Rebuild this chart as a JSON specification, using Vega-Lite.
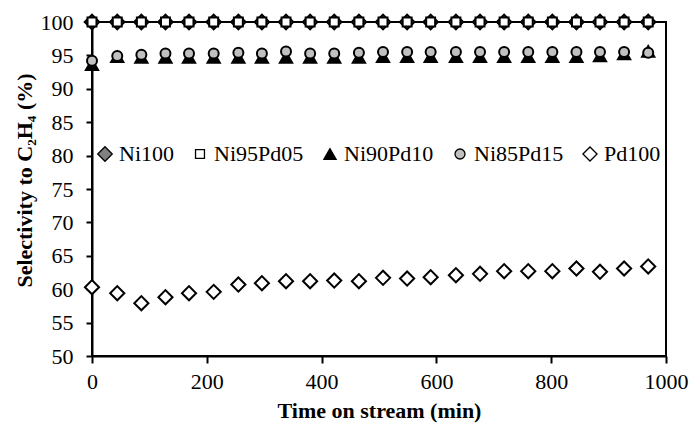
{
  "$schema": "https://vega.github.io/schema/vega-lite/v6.json",
  "width": 574,
  "height": 334,
  "autosize": {"type": "none"},
  "padding": {"left": 92, "top": 22, "right": 26, "bottom": 72},
  "background": "white",
  "config": {
    "font": "Liberation Serif",
    "view": {"stroke": "black", "strokeWidth": 2},
    "axis": {
      "grid": false,
      "domainColor": "black",
      "domainWidth": 2,
      "tickColor": "black",
      "tickWidth": 2,
      "labelColor": "black",
      "labelFont": "Liberation Serif",
      "labelFontSize": 22,
      "titleColor": "black",
      "titleFont": "Liberation Serif",
      "titleFontSize": 22,
      "titleFontWeight": "bold"
    },
    "legend": {
      "labelFont": "Liberation Serif", "labelFontSize": 22, "labelColor": "black"
    }
  },
  "datasets": {
    "sel": [
      {"series": "Ni100", "time": 0, "value": 100}, {"series": "Ni100", "time": 44, "value": 100}, {"series": "Ni100", "time": 86, "value": 100}, {"series": "Ni100", "time": 128, "value": 100}, {"series": "Ni100", "time": 169, "value": 100}, {"series": "Ni100", "time": 212, "value": 100}, {"series": "Ni100", "time": 255, "value": 100}, {"series": "Ni100", "time": 296, "value": 100}, {"series": "Ni100", "time": 338, "value": 100}, {"series": "Ni100", "time": 380, "value": 100}, {"series": "Ni100", "time": 422, "value": 100}, {"series": "Ni100", "time": 465, "value": 100}, {"series": "Ni100", "time": 507, "value": 100}, {"series": "Ni100", "time": 549, "value": 100}, {"series": "Ni100", "time": 590, "value": 100}, {"series": "Ni100", "time": 634, "value": 100}, {"series": "Ni100", "time": 676, "value": 100}, {"series": "Ni100", "time": 718, "value": 100}, {"series": "Ni100", "time": 760, "value": 100}, {"series": "Ni100", "time": 802, "value": 100}, {"series": "Ni100", "time": 844, "value": 100}, {"series": "Ni100", "time": 885, "value": 100}, {"series": "Ni100", "time": 927, "value": 100}, {"series": "Ni100", "time": 969, "value": 100},
      {"series": "Ni95Pd05", "time": 0, "value": 100}, {"series": "Ni95Pd05", "time": 44, "value": 100}, {"series": "Ni95Pd05", "time": 86, "value": 100}, {"series": "Ni95Pd05", "time": 128, "value": 100}, {"series": "Ni95Pd05", "time": 169, "value": 100}, {"series": "Ni95Pd05", "time": 212, "value": 100}, {"series": "Ni95Pd05", "time": 255, "value": 100}, {"series": "Ni95Pd05", "time": 296, "value": 100}, {"series": "Ni95Pd05", "time": 338, "value": 100}, {"series": "Ni95Pd05", "time": 380, "value": 100}, {"series": "Ni95Pd05", "time": 422, "value": 100}, {"series": "Ni95Pd05", "time": 465, "value": 100}, {"series": "Ni95Pd05", "time": 507, "value": 100}, {"series": "Ni95Pd05", "time": 549, "value": 100}, {"series": "Ni95Pd05", "time": 590, "value": 100}, {"series": "Ni95Pd05", "time": 634, "value": 100}, {"series": "Ni95Pd05", "time": 676, "value": 100}, {"series": "Ni95Pd05", "time": 718, "value": 100}, {"series": "Ni95Pd05", "time": 760, "value": 100}, {"series": "Ni95Pd05", "time": 802, "value": 100}, {"series": "Ni95Pd05", "time": 844, "value": 100}, {"series": "Ni95Pd05", "time": 885, "value": 100}, {"series": "Ni95Pd05", "time": 927, "value": 100}, {"series": "Ni95Pd05", "time": 969, "value": 100},
      {"series": "Ni90Pd10", "time": 0, "value": 93.6}, {"series": "Ni90Pd10", "time": 44, "value": 94.8}, {"series": "Ni90Pd10", "time": 86, "value": 94.7}, {"series": "Ni90Pd10", "time": 128, "value": 94.7}, {"series": "Ni90Pd10", "time": 169, "value": 94.7}, {"series": "Ni90Pd10", "time": 212, "value": 94.7}, {"series": "Ni90Pd10", "time": 255, "value": 94.7}, {"series": "Ni90Pd10", "time": 296, "value": 94.7}, {"series": "Ni90Pd10", "time": 338, "value": 94.7}, {"series": "Ni90Pd10", "time": 380, "value": 94.7}, {"series": "Ni90Pd10", "time": 422, "value": 94.7}, {"series": "Ni90Pd10", "time": 465, "value": 94.7}, {"series": "Ni90Pd10", "time": 507, "value": 94.8}, {"series": "Ni90Pd10", "time": 549, "value": 94.8}, {"series": "Ni90Pd10", "time": 590, "value": 94.8}, {"series": "Ni90Pd10", "time": 634, "value": 94.8}, {"series": "Ni90Pd10", "time": 676, "value": 94.8}, {"series": "Ni90Pd10", "time": 718, "value": 94.8}, {"series": "Ni90Pd10", "time": 760, "value": 94.8}, {"series": "Ni90Pd10", "time": 802, "value": 94.8}, {"series": "Ni90Pd10", "time": 844, "value": 94.8}, {"series": "Ni90Pd10", "time": 885, "value": 94.9}, {"series": "Ni90Pd10", "time": 927, "value": 95.2}, {"series": "Ni90Pd10", "time": 969, "value": 95.6},
      {"series": "Ni85Pd15", "time": 0, "value": 94.2}, {"series": "Ni85Pd15", "time": 44, "value": 94.9}, {"series": "Ni85Pd15", "time": 86, "value": 95.1}, {"series": "Ni85Pd15", "time": 128, "value": 95.3}, {"series": "Ni85Pd15", "time": 169, "value": 95.3}, {"series": "Ni85Pd15", "time": 212, "value": 95.3}, {"series": "Ni85Pd15", "time": 255, "value": 95.4}, {"series": "Ni85Pd15", "time": 296, "value": 95.3}, {"series": "Ni85Pd15", "time": 338, "value": 95.6}, {"series": "Ni85Pd15", "time": 380, "value": 95.3}, {"series": "Ni85Pd15", "time": 422, "value": 95.3}, {"series": "Ni85Pd15", "time": 465, "value": 95.4}, {"series": "Ni85Pd15", "time": 507, "value": 95.5}, {"series": "Ni85Pd15", "time": 549, "value": 95.5}, {"series": "Ni85Pd15", "time": 590, "value": 95.5}, {"series": "Ni85Pd15", "time": 634, "value": 95.5}, {"series": "Ni85Pd15", "time": 676, "value": 95.5}, {"series": "Ni85Pd15", "time": 718, "value": 95.5}, {"series": "Ni85Pd15", "time": 760, "value": 95.5}, {"series": "Ni85Pd15", "time": 802, "value": 95.5}, {"series": "Ni85Pd15", "time": 844, "value": 95.5}, {"series": "Ni85Pd15", "time": 885, "value": 95.5}, {"series": "Ni85Pd15", "time": 927, "value": 95.5}, {"series": "Ni85Pd15", "time": 969, "value": 95.4},
      {"series": "Pd100", "time": 0, "value": 60.3}, {"series": "Pd100", "time": 44, "value": 59.4}, {"series": "Pd100", "time": 86, "value": 57.9}, {"series": "Pd100", "time": 128, "value": 58.8}, {"series": "Pd100", "time": 169, "value": 59.4}, {"series": "Pd100", "time": 212, "value": 59.6}, {"series": "Pd100", "time": 255, "value": 60.7}, {"series": "Pd100", "time": 296, "value": 60.9}, {"series": "Pd100", "time": 338, "value": 61.2}, {"series": "Pd100", "time": 380, "value": 61.2}, {"series": "Pd100", "time": 422, "value": 61.3}, {"series": "Pd100", "time": 465, "value": 61.2}, {"series": "Pd100", "time": 507, "value": 61.7}, {"series": "Pd100", "time": 549, "value": 61.6}, {"series": "Pd100", "time": 590, "value": 61.8}, {"series": "Pd100", "time": 634, "value": 62.1}, {"series": "Pd100", "time": 676, "value": 62.3}, {"series": "Pd100", "time": 718, "value": 62.7}, {"series": "Pd100", "time": 760, "value": 62.7}, {"series": "Pd100", "time": 802, "value": 62.7}, {"series": "Pd100", "time": 844, "value": 63.1}, {"series": "Pd100", "time": 885, "value": 62.6}, {"series": "Pd100", "time": 927, "value": 63.1}, {"series": "Pd100", "time": 969, "value": 63.4}
    ]
  },
  "data": {"name": "sel"},
  "mark": {"type": "point", "filled": true, "strokeWidth": 2, "opacity": 1, "clip": false},
  "encoding": {
    "x": {
      "field": "time", "type": "quantitative",
      "scale": {"domain": [0, 1000], "nice": false, "zero": false},
      "axis": {"values": [0, 200, 400, 600, 800, 1000], "format": "d", "title": "Time on stream (min)", "tickSize": 7, "labelPadding": 8, "titleBaseline": "alphabetic", "titleY": 61, "labelFlush": false}
    },
    "y": {
      "field": "value", "type": "quantitative",
      "scale": {"domain": [50, 100], "nice": false, "zero": false},
      "axis": {"values": [50, 55, 60, 65, 70, 75, 80, 85, 90, 95, 100], "title": "Selectivity to C₂H₄ (%)", "tickSize": 6, "labelPadding": 13, "titleBaseline": "alphabetic", "titleX": -61, "titleY": 158, "titleAngle": -90, "labelFlush": false}
    },
    "shape": {
      "field": "series", "type": "nominal",
      "scale": {"domain": ["Ni100", "Ni95Pd05", "Ni90Pd10", "Ni85Pd15", "Pd100"], "range": ["diamond", "square", "triangle-up", "circle", "diamond"]},
      "legend": {"title": null, "orient": "none", "legendX": 2, "legendY": 121, "direction": "horizontal", "labelFont": "Liberation Serif", "labelFontSize": 22, "labelColor": "black", "symbolStrokeWidth": 1.3, "columnPadding": 15, "labelOffset": 3, "padding": 0, "encode": {"symbols": {"update": {"size": {"value": 75}, "strokeWidth": {"value": 1.3}}}}}
    },
    "fill": {
      "field": "series", "type": "nominal",
      "scale": {"domain": ["Ni100", "Ni95Pd05", "Ni90Pd10", "Ni85Pd15", "Pd100"], "range": ["#808080", "#ffffff", "#000000", "#c0c0c0", "#ffffff"]},
      "legend": {"title": null, "orient": "none", "legendX": 2, "legendY": 121, "direction": "horizontal", "labelFont": "Liberation Serif", "labelFontSize": 22, "labelColor": "black", "symbolStrokeWidth": 1.3, "columnPadding": 15, "labelOffset": 3, "padding": 0, "encode": {"symbols": {"update": {"size": {"value": 75}, "strokeWidth": {"value": 1.3}}}}}
    },
    "stroke": {
      "field": "series", "type": "nominal",
      "scale": {"domain": ["Ni100", "Ni95Pd05", "Ni90Pd10", "Ni85Pd15", "Pd100"], "range": ["#000000", "#000000", "#000000", "#000000", "#000000"]},
      "legend": {"title": null, "orient": "none", "legendX": 2, "legendY": 121, "direction": "horizontal", "labelFont": "Liberation Serif", "labelFontSize": 22, "labelColor": "black", "symbolStrokeWidth": 1.3, "columnPadding": 15, "labelOffset": 3, "padding": 0, "encode": {"symbols": {"update": {"size": {"value": 75}, "strokeWidth": {"value": 1.3}}}}}
    },
    "size": {
      "field": "series", "type": "ordinal",
      "scale": {"type": "ordinal", "domain": ["Ni100", "Ni95Pd05", "Ni90Pd10", "Ni85Pd15", "Pd100"], "range": [210, 80, 150, 100, 200]},
      "legend": {"title": null, "orient": "none", "legendX": 2, "legendY": 121, "direction": "horizontal", "labelFont": "Liberation Serif", "labelFontSize": 22, "labelColor": "black", "symbolStrokeWidth": 1.3, "columnPadding": 15, "labelOffset": 3, "padding": 0, "encode": {"symbols": {"update": {"size": {"value": 75}, "strokeWidth": {"value": 1.3}}}}}
    }
  }
}
